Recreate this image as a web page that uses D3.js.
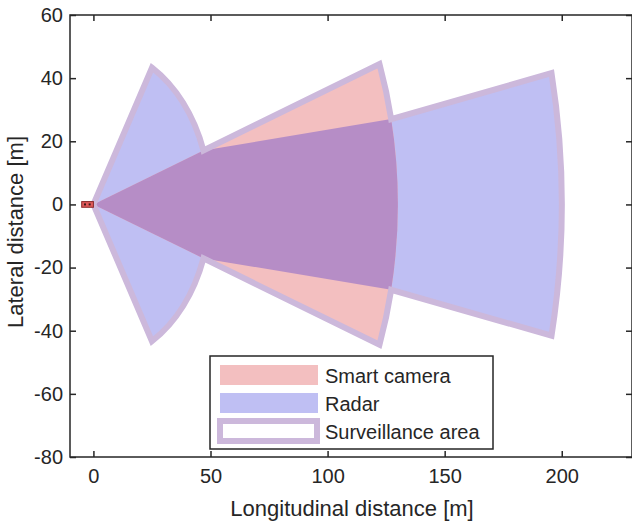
<!DOCTYPE html>
<meta charset="utf-8">
<style>
body { margin: 0; background: #fff; }
text { font-family: "Liberation Sans", Arial, sans-serif; fill: #262626; }
.axis path { display: none; }
.axis line { stroke: #262626; stroke-width: 1.5; }
.axis text { font-size: 20px; }
</style>
<body>
<script src="https://d3js.org/d3.v7.min.js"></script>
<script>

// field of view outlines, as polar vertices [range m, angle deg]
// consecutive vertices at the same range are joined by an arc
var radarFov = [[0, 0], [50, 60], [50, 20], [130, 12], [200, 12], [200, -12], [130, -12], [50, -20], [50, -60]];
var cameraFov = [[0, 0], [130, 20], [130, -20]];
var overlapFov = [[0, 0], [50, 20], [130, 12], [130, -12], [50, -20]];
var surveillanceArea = [[0, 0], [50, 60], [50, 20], [130, 20], [130, 12], [200, 12], [200, -12], [130, -12], [130, -20], [50, -20], [50, -60]];

var legendLabels = ["Smart camera", "Radar", "Surveillance area"];
var xTicks = [0, 50, 100, 150, 200];
var yTicks = [-80, -60, -40, -20, 0, 20, 40, 60];
var egoVehicle = {x0: -5, x1: 0, y0: -0.9, y1: 0.9};

var colors = {camera: "#f3bfc0", radar: "#bfbff3", overlap: "#b68dc6", area: "#ccb8db"};

var margin = {top: 15, right: 0, bottom: 65, left: 70},
    width = 632 - margin.left - margin.right,
    height = 522 - margin.top - margin.bottom;

var x = d3.scaleLinear().domain([-10, 230]).range([0, width]);
var y = d3.scaleLinear().domain([-80, 60]).range([height, 0]);

// plain hyphen minus like the original figure
var fmt = function(d) { return String(d); };

var svg = d3.select("body").append("svg")
    .attr("width", 632)
    .attr("height", 522);

var g = svg.append("g")
    .attr("transform", "translate(" + margin.left + "," + margin.top + ")");

// polar -> data coords
function pt(v) {
  var a = v[1] * Math.PI / 180;
  return [v[0] * Math.cos(a), v[0] * Math.sin(a)];
}

// build an svg path; arcs become ellipses because x and y scales differ
function fovPath(verts) {
  var rx = function(r) { return x(r) - x(0); };
  var ry = function(r) { return y(0) - y(r); };
  var p = pt(verts[0]);
  var d = "M" + x(p[0]) + "," + y(p[1]);
  for (var i = 1; i < verts.length; i++) {
    var prev = verts[i - 1], cur = verts[i];
    var q = pt(cur);
    if (cur[0] === prev[0] && cur[0] > 0) {
      var sweep = cur[1] < prev[1] ? 1 : 0;
      d += "A" + rx(cur[0]) + "," + ry(cur[0]) + " 0 0 " + sweep + " " + x(q[0]) + "," + y(q[1]);
    } else {
      d += "L" + x(q[0]) + "," + y(q[1]);
    }
  }
  return d + "Z";
}

var plot = g.append("g");

plot.append("path").attr("d", fovPath(radarFov)).attr("fill", colors.radar);
plot.append("path").attr("d", fovPath(cameraFov)).attr("fill", colors.camera);
plot.append("path").attr("d", fovPath(overlapFov)).attr("fill", colors.overlap);
plot.append("path").attr("d", fovPath(surveillanceArea))
    .attr("fill", "none")
    .attr("stroke", colors.area)
    .attr("stroke-width", 6)
    .attr("stroke-linejoin", "miter");

// ego vehicle
plot.append("rect")
    .attr("x", x(egoVehicle.x0))
    .attr("y", y(egoVehicle.y1))
    .attr("width", x(egoVehicle.x1) - x(egoVehicle.x0))
    .attr("height", y(egoVehicle.y0) - y(egoVehicle.y1))
    .attr("fill", "#e05a5a")
    .attr("stroke", "#8a2a2a")
    .attr("stroke-width", 1);
[-3.6, -1.6].forEach(function(cx) {
  plot.append("rect")
      .attr("x", x(cx) - 1).attr("y", y(0) - 1)
      .attr("width", 2).attr("height", 2)
      .attr("fill", "#3a1a1a");
});

// axes with inward ticks on all four sides
g.append("g").attr("class", "axis")
    .attr("transform", "translate(0," + height + ")")
    .call(d3.axisBottom(x).tickValues(xTicks).tickFormat(fmt).tickSizeInner(-6).tickSizeOuter(0).tickPadding(12));
g.append("g").attr("class", "axis")
    .call(d3.axisTop(x).tickValues(xTicks).tickSizeInner(-6).tickSizeOuter(0).tickFormat(""));
g.append("g").attr("class", "axis")
    .call(d3.axisLeft(y).tickValues(yTicks).tickFormat(fmt).tickSizeInner(-6).tickSizeOuter(0).tickPadding(7));
g.append("g").attr("class", "axis")
    .attr("transform", "translate(" + width + ",0)")
    .call(d3.axisRight(y).tickValues(yTicks).tickSizeInner(-6).tickSizeOuter(0).tickFormat(""));

g.append("rect")
    .attr("width", width).attr("height", height)
    .attr("fill", "none")
    .attr("stroke", "#262626")
    .attr("stroke-width", 1.5);

// axis labels
svg.append("text")
    .attr("x", 352).attr("y", 516)
    .attr("text-anchor", "middle")
    .style("font-size", "22px")
    .text("Longitudinal distance [m]");

svg.append("text")
    .attr("transform", "translate(23,232) rotate(-90)")
    .attr("text-anchor", "middle")
    .style("font-size", "22px")
    .text("Lateral distance [m]");

// legend
var lg = svg.append("g").attr("transform", "translate(210,356)");
lg.append("rect")
    .attr("width", 283).attr("height", 93)
    .attr("fill", "#fff")
    .attr("stroke", "#262626")
    .attr("stroke-width", 1.5);

var swatch = [
  {fill: colors.camera, stroke: "none", sw: 0, x: 10, y: 9, w: 98, h: 20},
  {fill: colors.radar, stroke: "none", sw: 0, x: 10, y: 37, w: 98, h: 20},
  {fill: "#fff", stroke: colors.area, sw: 6, x: 10, y: 65, w: 97, h: 20}
];
legendLabels.forEach(function(label, i) {
  var s = swatch[i];
  lg.append("rect")
      .attr("x", s.x).attr("y", s.y)
      .attr("width", s.w).attr("height", s.h)
      .attr("fill", s.fill)
      .attr("stroke", s.stroke)
      .attr("stroke-width", s.sw);
  lg.append("text")
      .attr("x", 115)
      .attr("y", 26.5 + i * 28)
      .style("font-size", "20px")
      .text(label);
});

</script>
</body>
